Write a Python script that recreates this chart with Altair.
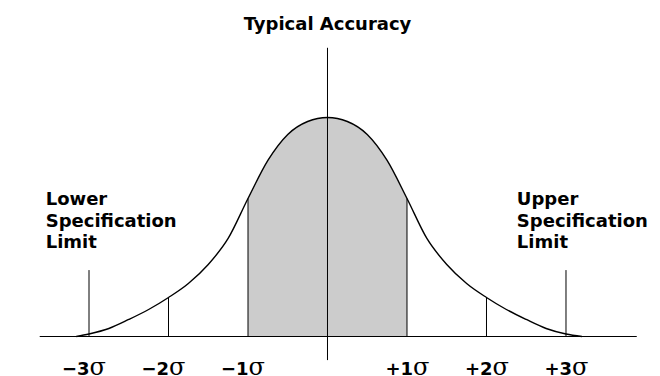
import altair as alt
import pandas as pd

# ---- data (x in sigma units, y = relative density) ----
curve_x = [-3.16, -3.0, -2.75, -2.5, -2.25, -2.0, -1.75, -1.5, -1.25, -1.0, -0.75, -0.5, -0.25,
           0.0, 0.25, 0.5, 0.75, 1.0, 1.25, 1.5, 1.75, 2.0, 2.25, 2.5, 2.75, 3.0, 3.2]
curve_y = [0.0, 0.0046, 0.0146, 0.0310, 0.0492, 0.0711, 0.0966, 0.1312, 0.1786, 0.2514, 0.3207, 0.3680, 0.3917,
           0.3990, 0.3917, 0.3680, 0.3207, 0.2514, 0.1786, 0.1312, 0.0966, 0.0711, 0.0492, 0.0310, 0.0146, 0.0046, 0.0]

sigma_ticks = [-3, -2, -1, 1, 2, 3]
tick_numbers = ["\u22123", "\u22122", "\u22121", "+1", "+2", "+3"]
guide_sigmas = [-2, -1, 1, 2]
spec_sigmas = [-3, 3]
spec_top = 0.121
center_line = [-0.043, 0.526]
baseline_span = [-3.62, 3.89]

title_text = "Typical Accuracy"
lower_lines = ["Lower", "Specification", "Limit"]
upper_lines = ["Upper", "Specification", "Limit"]

# ---- tables ----
curve = pd.DataFrame({"x": curve_x, "y": curve_y})
shade = curve[(curve.x >= -1) & (curve.x <= 1)]
lookup = dict(zip(curve_x, curve_y))
guides = pd.DataFrame({"x": guide_sigmas, "y": [0.0] * len(guide_sigmas),
                       "y2": [lookup[float(s)] for s in guide_sigmas]})
specs = pd.DataFrame({"x": spec_sigmas, "y": [0.0, 0.0], "y2": [spec_top, spec_top]})
center = pd.DataFrame({"x": [0.0], "y": [center_line[0]], "y2": [center_line[1]]})
base = pd.DataFrame({"x": [baseline_span[0]], "x2": [baseline_span[1]], "y": [0.0]})

label_y = -0.0701
ticks = pd.DataFrame({"x": sigma_ticks, "num": tick_numbers,
                      "sig": ["\u03c3"] * 6, "y": [label_y] * 6})
minus_ticks = ticks[ticks.x < 0]
plus_ticks = ticks[ticks.x > 0]

line_ys = [0.2396, 0.2004, 0.1612]
lower_df = pd.DataFrame({"x": [-3.545] * 3, "y": line_ys, "t": lower_lines})
upper_df = pd.DataFrame({"x": [2.382] * 3, "y": line_ys, "t": upper_lines})
title_df = pd.DataFrame({"x": [0.0], "y": [0.5584], "t": [title_text]})

xs = alt.Scale(domain=[-4.0189, 4.0818], nice=False, zero=False)
ys = alt.Scale(domain=[-0.07197, 0.5985], nice=False, zero=False)
X = lambda f="x": alt.X(f"{f}:Q", scale=xs, axis=None)
Y = lambda f="y": alt.Y(f"{f}:Q", scale=ys, axis=None)

area = alt.Chart(shade).mark_area(color="#cccccc", interpolate="monotone").encode(x=X(), y=Y())
curve_line = alt.Chart(curve).mark_line(color="black", strokeWidth=1.4, interpolate="monotone").encode(x=X(), y=Y())
guide_rules = alt.Chart(guides).mark_rule(color="black", strokeWidth=1).encode(x=X(), y=Y(), y2="y2:Q")
spec_rules = alt.Chart(specs).mark_rule(color="black", strokeWidth=1).encode(x=X(), y=Y(), y2="y2:Q")
center_rule = alt.Chart(center).mark_rule(color="black", strokeWidth=1).encode(x=X(), y=Y(), y2="y2:Q")
base_rule = alt.Chart(base).mark_rule(color="black", strokeWidth=1.2).encode(x=X(), x2="x2:Q", y=Y())

bold = dict(font="DejaVu Sans", fontWeight="bold", fontSize=18, color="black", baseline="alphabetic")
sig_style = dict(font="DejaVu Serif", fontSize=24, color="black", baseline="alphabetic")

title = alt.Chart(title_df).mark_text(align="center", **bold).encode(x=X(), y=Y(), text="t:N")
lower = alt.Chart(lower_df).mark_text(align="left", **bold).encode(x=X(), y=Y(), text="t:N")
upper = alt.Chart(upper_df).mark_text(align="left", **bold).encode(x=X(), y=Y(), text="t:N")

minus_num = alt.Chart(minus_ticks).mark_text(align="right", dx=0.5, **bold).encode(x=X(), y=Y(), text="num:N")
minus_sig = alt.Chart(minus_ticks).mark_text(align="left", dx=0.5, **sig_style).encode(x=X(), y=Y(), text="sig:N")
plus_num = alt.Chart(plus_ticks).mark_text(align="right", dx=6, **bold).encode(x=X(), y=Y(), text="num:N")
plus_sig = alt.Chart(plus_ticks).mark_text(align="left", dx=6, **sig_style).encode(x=X(), y=Y(), text="sig:N")

chart = alt.layer(
    area, curve_line, guide_rules, spec_rules, center_rule, base_rule,
    title, lower, upper, minus_num, minus_sig, plus_num, plus_sig,
).properties(
    width=644, height=368, autosize=alt.AutoSizeParams(type="none"), padding=0,
    background="white",
).configure_view(stroke=None)

chart.save("out.html", embed_options={"renderer": "svg", "actions": False})
